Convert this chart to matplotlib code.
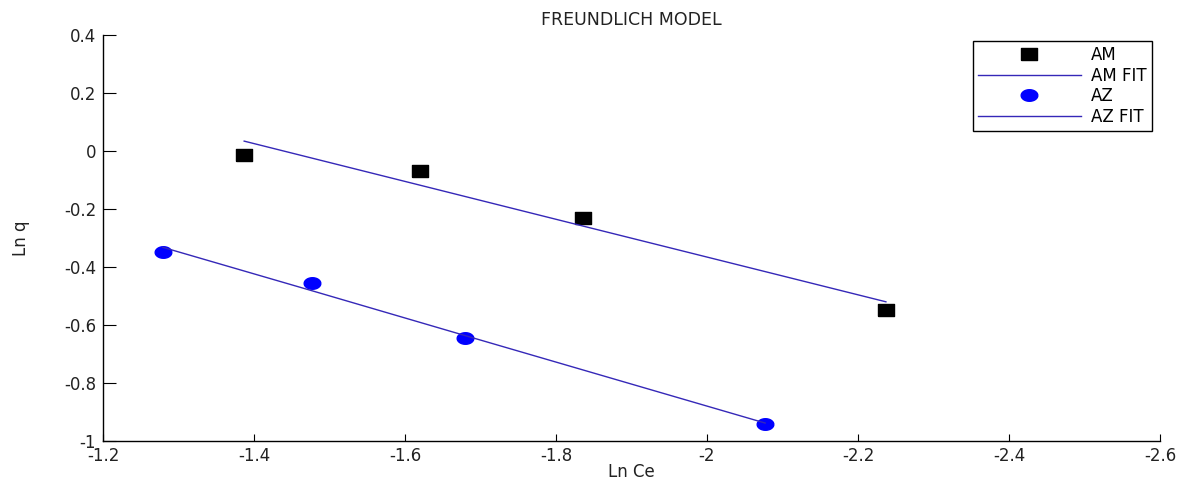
import numpy as np
import matplotlib
matplotlib.use('Agg')
import matplotlib.pyplot as plt

plt.rcParams['font.family'] = ['DejaVu Sans']

# values
am_x = [-1.387, -1.620, -1.836, -2.237]
am_y = [-0.014, -0.069, -0.231, -0.548]
am_fit = [0.034, -0.118, -0.259, -0.520]

az_x = [-1.279, -1.477, -1.679, -2.077]
az_y = [-0.348, -0.455, -0.645, -0.941]
az_fit = [-0.332, -0.482, -0.636, -0.938]

xticks = [-1.2, -1.4, -1.6, -1.8, -2, -2.2, -2.4, -2.6]
yticks = [-1, -0.8, -0.6, -0.4, -0.2, 0, 0.2, 0.4]

# markers look stretched sideways in the picture
sq = [(-0.75, -0.5), (0.75, -0.5), (0.75, 0.5), (-0.75, 0.5), (-0.75, -0.5)]
t = np.linspace(0, 2 * np.pi, 40)
ell = list(zip(0.72 * np.cos(t), 0.5 * np.sin(t)))

fig = plt.figure(figsize=(11.81, 4.79), dpi=100)
ax = fig.add_axes([0.0872, 0.0793, 0.8950, 0.8477])

fit_col = '#3528b8'
ax.plot(am_x, am_y, linestyle='none', marker=sq, markersize=12, color='black', label='AM')
ax.plot(am_x, am_fit, color=fit_col, lw=1.0, label='AM FIT')
ax.plot(az_x, az_y, linestyle='none', marker=ell, markersize=12, color='#0000ff', label='AZ')
ax.plot(az_x, az_fit, color=fit_col, lw=1.0, label='AZ FIT')

ax.set_xlim(-1.2, -2.6)
ax.set_ylim(-1, 0.4)
ax.set_xticks(xticks)
ax.set_xticklabels([f'{v:g}' for v in xticks])
ax.set_yticks(yticks)
ax.set_yticklabels([f'{v:g}' for v in yticks])

for s in ['top', 'right']:
    ax.spines[s].set_visible(False)
ax.spines['left'].set_linewidth(1.0)
ax.spines['bottom'].set_linewidth(1.0)
ax.tick_params(axis='x', direction='in', length=5, labelsize=12, pad=4, labelcolor='#222222')
ax.tick_params(axis='y', direction='in', length=9, labelsize=12, pad=5, labelcolor='#222222')

ax.set_title('FREUNDLICH MODEL', fontsize=12.5, pad=7, color='#222222')
ax.set_xlabel('Ln Ce', fontsize=12, labelpad=-1, color='#222222')
ax.set_ylabel('Ln q', fontsize=12, labelpad=24, color='#222222')

leg = ax.legend(loc='upper right', bbox_to_anchor=(0.992, 0.985), fontsize=12,
                handlelength=6.2, labelspacing=0.15, borderpad=0.3,
                handletextpad=0.6, fancybox=False, framealpha=1, borderaxespad=0)
leg.get_frame().set_edgecolor('black')
leg.get_frame().set_linewidth(1.0)

fig.savefig('out.png', dpi=100)
